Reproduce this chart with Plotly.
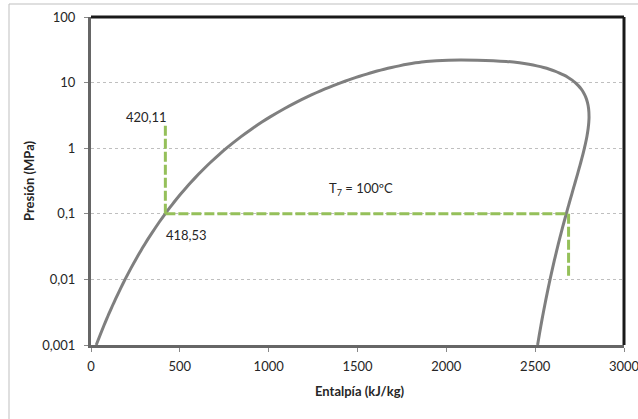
import numpy as np
import plotly.graph_objects as go

# Saturation dome data (pressure MPa, enthalpy kJ/kg)
p_sat = [0.001, 0.0015, 0.002, 0.0025, 0.003, 0.004, 0.005, 0.0075, 0.01, 0.015, 0.02, 0.025,
         0.03, 0.04, 0.05, 0.075, 0.1, 0.125, 0.15, 0.2, 0.25, 0.3, 0.4, 0.5, 0.6, 0.8, 1.0,
         1.5, 2.0, 2.5, 3.0, 4.0, 5.0, 6.0, 7.0, 8.0, 9.0, 10.0, 11.0, 12.0, 13.0, 14.0, 15.0,
         16.0, 17.0, 18.0, 19.0, 20.0, 21.0, 22.0]
h_liq = [29.3, 54.7, 73.4, 88.4, 101.0, 121.4, 137.8, 168.8, 191.8, 225.9, 251.4, 272.0,
         289.3, 317.6, 340.5, 384.4, 417.5, 444.4, 467.1, 504.7, 535.4, 561.4, 604.7, 640.1,
         670.4, 720.9, 762.5, 844.6, 908.5, 961.9, 1008.3, 1087.4, 1154.5, 1213.9, 1267.5,
         1317.1, 1363.7, 1408.1, 1450.9, 1491.8, 1532.0, 1571.9, 1610.3, 1650.5, 1691.7,
         1734.8, 1778.2, 1826.6, 1886.3, 2011.1]
h_vap = [2513.7, 2524.5, 2532.7, 2539.2, 2544.7, 2553.7, 2560.7, 2574.0, 2583.9, 2598.3,
         2608.9, 2617.5, 2624.6, 2636.1, 2645.2, 2662.4, 2675.0, 2684.9, 2693.1, 2706.3,
         2716.5, 2724.9, 2738.1, 2748.1, 2756.2, 2768.3, 2777.1, 2791.0, 2798.3, 2801.9,
         2803.2, 2800.8, 2794.2, 2784.6, 2772.6, 2758.7, 2742.9, 2725.5, 2706.3, 2685.4,
         2662.4, 2637.1, 2610.7, 2580.8, 2547.5, 2509.5, 2465.2, 2411.4, 2337.5, 2173.1]
p_crit = 22.064
h_crit = 2084.3

# Process lines
h_pump = [418.53, 418.53]
p_pump = [0.1, 2.3]
h_evap = [418.53, 2688.0]
p_evap = [0.1, 0.1]
h_exp = [2688.0, 2688.0]
p_exp = [0.1, 0.011]

x_ticks = [0, 500, 1000, 1500, 2000, 2500, 3000]
y_ticks = [0.001, 0.01, 0.1, 1, 10, 100]
y_ticklabels = ["0,001", "0,01", "0,1", "1", "10", "100"]

dome_h = h_liq + [h_crit] + h_vap[::-1]
dome_p = p_sat + [p_crit] + p_sat[::-1]

green = "#95C05A"
fig = go.Figure()
fig.add_trace(go.Scatter(x=dome_h, y=dome_p, mode="lines",
                         line=dict(color="#7F7F7F", width=3, shape="spline", smoothing=0.6),
                         hoverinfo="skip", showlegend=False))
for hx, py in [(h_pump, p_pump), (h_evap, p_evap), (h_exp, p_exp)]:
    fig.add_trace(go.Scatter(x=hx, y=py, mode="lines",
                             line=dict(color=green, width=3, dash="10px,3px"),
                             showlegend=False))

# plot area geometry in pixels
L, R, T, B = 91, 624, 17, 345
W, H = R - L, B - T

def px(xp):
    return (xp - L) / W

def py_(yp):
    return (B - yp) / H

font = "Lato, 'Open Sans', sans-serif"
fs = 13
tc = "#262626"
annotations = [
    dict(x=315, y=np.log10(3.0), xref="x", yref="y", text="420,11", showarrow=False,
         font=dict(size=fs, color=tc, family=font)),
    dict(x=540, y=np.log10(0.0475), xref="x", yref="y", text="418,53", showarrow=False,
         font=dict(size=fs, color=tc, family=font)),
    dict(x=1520, y=np.log10(0.24), xref="x", yref="y", text="T<sub>7</sub> = 100ºC",
         showarrow=False, font=dict(size=fs, color=tc, family=font)),
    dict(x=px(359), y=py_(391), xref="paper", yref="paper", text="<b>Entalpía (kJ/kg)</b>",
         xanchor="center", yanchor="middle",
         showarrow=False, font=dict(size=fs, color=tc, family=font)),
    dict(x=px(29), y=py_(181), xref="paper", yref="paper", text="<b>Presión (MPa)</b>",
         xanchor="center", yanchor="middle",
         textangle=-90, showarrow=False, font=dict(size=fs, color=tc, family=font)),
]

shapes = [
    # outer chart border
    dict(type="rect", xref="paper", yref="paper", x0=px(9), x1=px(645), y0=py_(425), y1=py_(4),
         line=dict(color="#BFBFBF", width=1), layer="below"),
    # top and right plot border (black)
    dict(type="line", xref="paper", yref="paper", x0=0, x1=1, y0=1, y1=1,
         line=dict(color="#1A1A1A", width=3)),
    dict(type="line", xref="paper", yref="paper", x0=1, x1=1, y0=0, y1=1,
         line=dict(color="#1A1A1A", width=3)),
]

fig.update_layout(
    width=638, height=419,
    margin=dict(l=L, r=638 - R, t=T, b=419 - B, autoexpand=False),
    paper_bgcolor="white", plot_bgcolor="white",
    annotations=annotations, shapes=shapes,
    font=dict(family=font, size=fs, color=tc),
)
fig.update_xaxes(range=[0, 3000], tickvals=x_ticks, ticktext=[str(v) for v in x_ticks],
                 showgrid=False, zeroline=False, showline=True, linecolor="#666666", linewidth=3,
                 ticks="outside", ticklen=4, tickcolor="#888888", ticklabelstandoff=3,
                 ticklabeloverflow="allow",
                 tickfont=dict(size=fs, family=font, color=tc))
fig.update_yaxes(type="log", range=[-3, 2], tickvals=y_ticks, ticktext=y_ticklabels,
                 showgrid=True, gridcolor="#BFBFBF", gridwidth=1, griddash="dot",
                 zeroline=False, showline=True, linecolor="#666666", linewidth=3,
                 ticks="outside", ticklen=4, tickcolor="#888888", ticklabelstandoff=6,
                 ticklabeloverflow="allow",
                 tickfont=dict(size=fs, family=font, color=tc))

fig.write_html("out.html", config={"displayModeBar": False},
               post_script="document.body.style.margin='0';document.body.style.overflow='hidden';")
